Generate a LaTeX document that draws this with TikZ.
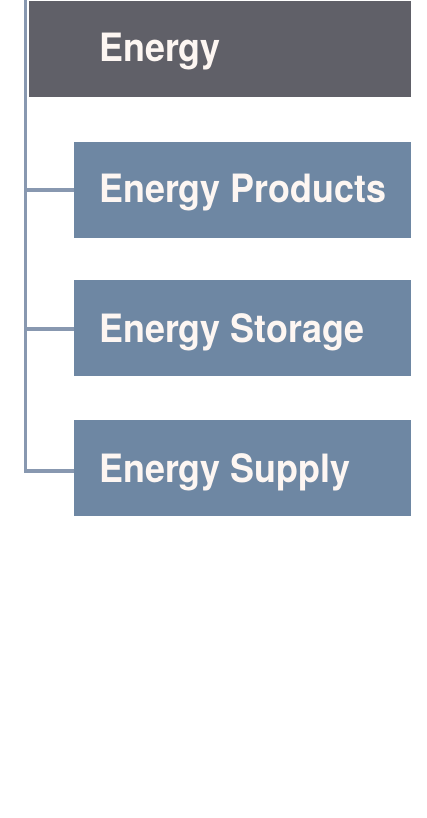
\documentclass[tikz,border=0pt]{standalone}
\usepackage{fontspec}
\setmainfont{TeX Gyre Heros}[BoldFeatures={FakeStretch=0.92}]
\definecolor{topfill}{HTML}{606068}
\definecolor{childfill}{HTML}{6E87A3}
\definecolor{linkcol}{HTML}{8898B0}
\definecolor{txtcol}{HTML}{FDF6F2}
\begin{document}
\begin{tikzpicture}[x=1pt,y=1pt,
  boxbase/.style={draw=none,inner sep=0pt,anchor=north west},
  topbox/.style={boxbase,fill=topfill,minimum width=382pt,minimum height=96pt},
  childbox/.style={boxbase,fill=childfill,minimum width=337pt,minimum height=96pt},
  lbl/.style={anchor=base west,inner sep=0pt,text=txtcol,font=\fontsize{39}{41}\selectfont\bfseries},
  link/.style={draw=linkcol,line width=3.5pt}]
\useasboundingbox (0,0) rectangle (426,-818);
\fill[white] (0,0) rectangle (426,-818);
\node[topbox] (top) at (29,-1) {};
\node[childbox] (c1) at (74,-142) {};
\node[childbox] (c2) at (74,-280) {};
\node[childbox] (c3) at (74,-420) {};
\node[lbl] (t0) at (99,-62) {Energy};
\node[lbl] (t1) at (99,-203) {Energy Products};
\node[lbl] (t2) at (99,-342) {Energy Storage};
\node[lbl] (t3) at (99,-482) {Energy Supply};
\coordinate (s0) at (25.5,0);
\coordinate (s3) at (25.5,-471);
\draw[link] (s0) -- (s3) -- (c3.west |- s3);
\draw[link] (25.5,-190) -- (c1.west |- 0,-190);
\draw[link] (25.5,-329) -- (c2.west |- 0,-329);
\end{tikzpicture}
\end{document}
